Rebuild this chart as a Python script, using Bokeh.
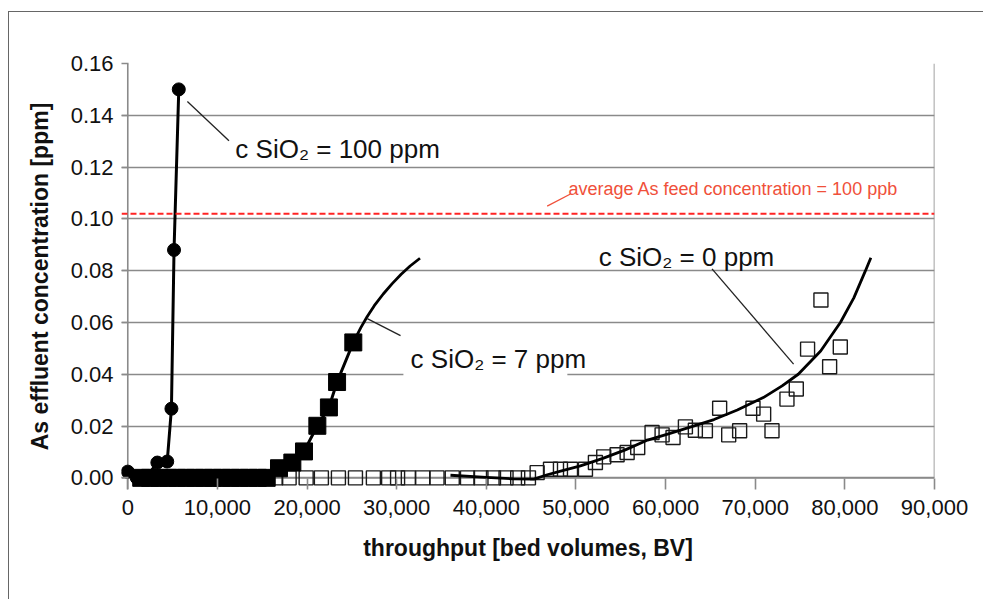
from bokeh.plotting import figure
from bokeh.models import Range1d, FixedTicker, NumeralTickFormatter, Label, Span, BoxAnnotation
from bokeh.embed import file_html
from bokeh.resources import INLINE

# ---------------- data ----------------
x_ticks = [0, 10000, 20000, 30000, 40000, 50000, 60000, 70000, 80000, 90000]
y_ticks = [0.0, 0.02, 0.04, 0.06, 0.08, 0.10, 0.12, 0.14, 0.16]

# c SiO2 = 100 ppm (filled circles)
bv_100 = [0, 1000, 2000, 3300, 4400, 4870, 5160, 5690]
as_100 = [0.0024, 0.0, 0.0, 0.0059, 0.0063, 0.0267, 0.088, 0.150]

# c SiO2 = 7 ppm (filled squares)
bv_7 = [1500, 2500, 3500, 4500, 5500, 6500, 7500, 8500, 9500, 10500, 11500,
        12500, 13500, 14500, 15500, 16870, 18360, 19660, 21150, 22440, 23350, 25160]
as_7 = [0.0, 0.0, 0.0, 0.0, 0.0, 0.0, 0.0, 0.0, 0.0, 0.0, 0.0,
        0.0, 0.0, 0.0, 0.0, 0.0037, 0.0059, 0.0102, 0.0201, 0.0272, 0.0370, 0.0523]
fit7_bv = [25160, 26000, 26700, 27500, 28500, 29500, 30500, 31500, 32600]
fit7_as = [0.0523, 0.0580, 0.0622, 0.0665, 0.0710, 0.0750, 0.0786, 0.0818, 0.0848]

# c SiO2 = 0 ppm (open squares)
bv_0 = [16500, 18000, 19900, 21600, 23500, 25400, 27400, 29100, 30100, 31300,
        32900, 34500, 36200, 37900, 39400, 40800, 42200, 43500, 44700,
        45670, 47160, 48270, 49390, 51060, 52170, 53100, 54590, 55710, 56890,
        58490, 59610, 60830, 62210, 63320, 64440, 66030, 67040, 68260, 69750,
        70940, 71870, 73540, 74580, 75840, 77330, 78300, 79490]
as_0 = [0.0, 0.0, 0.0, 0.0, 0.0, 0.0, 0.0, 0.0, 0.0, 0.0,
        0.0, 0.0, 0.0, 0.0, 0.0, 0.0, 0.0, 0.0, 0.0,
        0.0020, 0.0033, 0.0033, 0.0033, 0.0033, 0.0059, 0.0081, 0.0089, 0.0098, 0.0117,
        0.0175, 0.0166, 0.0156, 0.0197, 0.0184, 0.0182, 0.0269, 0.0166, 0.0182, 0.0269,
        0.0246, 0.0182, 0.0304, 0.0343, 0.0497, 0.0687, 0.0429, 0.0505]
fit0_bv = [36000, 40000, 43000, 45300, 46800, 48500, 50500, 53000, 55500, 58000,
           60500, 63100, 65400, 68000, 70900, 73000, 74800, 77300, 79500, 81000,
           82300, 82900]
fit0_as = [0.0010, 0.0002, -0.0004, -0.0005, 0.0012, 0.0028, 0.0046, 0.0075, 0.0108, 0.0146,
           0.0172, 0.0200, 0.0225, 0.0262, 0.0310, 0.0355, 0.0400, 0.0490, 0.0600, 0.0695,
           0.0800, 0.0850]

feed_level = 0.102

# ---------------- figure ----------------
FONT = "Liberation Sans"
GRID = "#8a8a8a"

p = figure(width=975, height=588, output_backend="svg", toolbar_location=None,
           x_range=Range1d(-700, 90000), y_range=Range1d(-0.0045, 0.16),
           min_border_left=112, min_border_right=50, min_border_top=51, min_border_bottom=111,
           background_fill_color="white", border_fill_color="white")
p.outline_line_color = None
p.styles = {"border-left": "1px solid #666666", "border-top": "1px solid #666666",
            "margin-top": "11px", "margin-left": "8px"}

p.xgrid.visible = False
p.ygrid.ticker = FixedTicker(ticks=y_ticks)
p.ygrid.grid_line_color = GRID
p.ygrid.grid_line_width = 1.6

p.xaxis.ticker = FixedTicker(ticks=x_ticks)
p.yaxis.ticker = FixedTicker(ticks=y_ticks)
p.xaxis.formatter = NumeralTickFormatter(format="0,0")
p.yaxis.formatter = NumeralTickFormatter(format="0.00")
for ax in (p.xaxis, p.yaxis):
    ax.axis_line_color = None
    ax.major_tick_line_color = GRID
    ax.major_tick_line_width = 1.6
    ax.major_tick_out = 0
    ax.minor_tick_line_color = None
    ax.major_label_text_font = FONT
    ax.major_label_text_font_size = "22px"
    ax.major_label_text_color = "#111111"
    ax.axis_label_text_font = FONT
    ax.axis_label_text_font_size = "23px"
    ax.axis_label_text_font_style = "bold"
    ax.axis_label_text_color = "#111111"
p.xaxis.major_tick_in = 11
p.yaxis.major_tick_in = 7
p.xaxis.major_label_standoff = 10
p.yaxis.major_label_standoff = 8
p.xaxis.axis_label = "throughput [bed volumes, BV]"
p.yaxis.axis_label = "As effluent concentration [ppm]"
p.xaxis.axis_label_standoff = 17
p.yaxis.axis_label_standoff = 15

# axis lines through the origin
p.add_layout(Span(location=0, dimension="width", line_color=GRID, line_width=1.6, level="underlay"))
p.add_layout(Span(location=0, dimension="height", line_color=GRID, line_width=1.6, level="underlay"))

# white patch behind the "7 ppm" text box (hides the gridline there)
p.add_layout(BoxAnnotation(left=30750, right=49040, bottom=0.037, top=0.043,
                           fill_color="white", fill_alpha=1.0, line_color=None,
                           level="underlay"))

# right edge of plot area
p.segment(x0=[x_ticks[-1]], y0=[y_ticks[0]], x1=[x_ticks[-1]], y1=[y_ticks[-1]],
          line_color=GRID, line_width=1.6)

# feed concentration line
p.add_layout(Span(location=feed_level, dimension="width", line_color="#ff2424",
                  line_dash="6 3", line_width=2))

# 0 ppm
p.scatter(bv_0, as_0, marker="square", size=14, fill_color=None,
          line_color="#1a1a1a", line_width=1.4)
p.line(fit0_bv, fit0_as, line_color="black", line_width=2.8)

# 7 ppm
p.line(bv_7, as_7, line_color="black", line_width=3)
p.line(fit7_bv, fit7_as, line_color="black", line_width=2.8)
p.scatter(bv_7, as_7, marker="square", size=17, fill_color="black", line_color="black")

# 100 ppm
p.line(bv_100, as_100, line_color="black", line_width=3)
p.scatter(bv_100, as_100, marker="circle", size=13, fill_color="black", line_color="black")

# leader lines
lead_x0 = [6650, 26720, 65180]
lead_y0 = [0.1453, 0.0615, 0.0807]
lead_x1 = [11290, 30430, 74280]
lead_y1 = [0.1302, 0.0549, 0.0439]
p.segment(x0=lead_x0, y0=lead_y0, x1=lead_x1, y1=lead_y1, line_color="#222222", line_width=1.3)
p.segment(x0=[46790], y0=[0.1049], x1=[49390], y1=[0.1096], line_color="#f0503a", line_width=1.3)

# text annotations
for tx, ty, txt in [(12000, 0.127, "c SiO\u2082 = 100 ppm"),
                    (31550, 0.046, "c SiO\u2082 = 7 ppm"),
                    (52540, 0.0851, "c SiO\u2082 = 0 ppm")]:
    p.add_layout(Label(x=tx, y=ty, text=txt, text_font=FONT, text_font_size="26px",
                       text_color="#111111", text_baseline="alphabetic", text_align="left"))
p.add_layout(Label(x=49160, y=0.1116, text="average As feed concentration = 100 ppb",
                   text_font=FONT, text_font_size="18px", text_color="#f0503a",
                   text_baseline="alphabetic", text_align="left"))

open("out.html", "w").write(file_html(p, INLINE))
